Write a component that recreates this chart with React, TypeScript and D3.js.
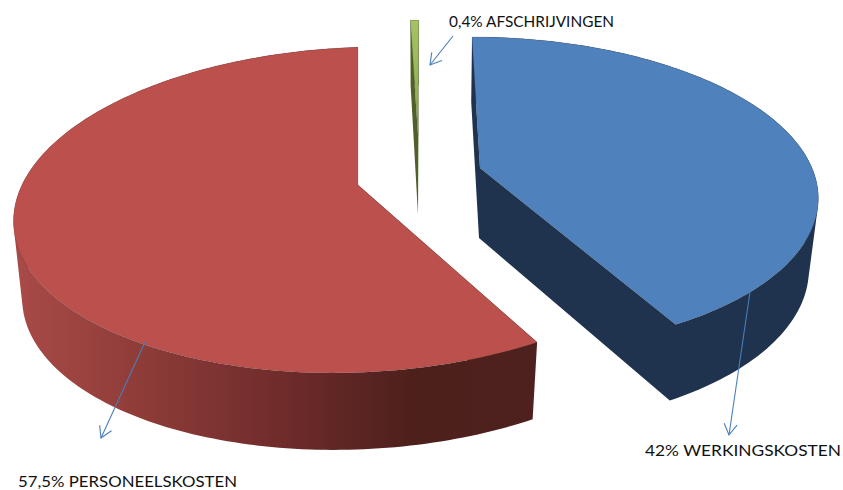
import { useEffect, useRef } from "react"
import * as d3 from "d3"

const categories = ["WERKINGSKOSTEN", "PERSONEELSKOSTEN", "AFSCHRIJVINGEN"]
const shares = [42, 57.5, 0.4]
const shareLabels = ["42%", "57,5%", "0,4%"]

const WIDTH = 843
const HEIGHT = 490

// every slice is pulled out of the pie, so each one has its own perspective frame
const frames = [
  { cx: 480, cy: 168, rx: 332, ry: 152.6, persp: 0.165, skew: 9.3, tilt: 0, scale: 0.975, shift: -1, depth: 70, depthSlope: 0.038 },
  { cx: 358, cy: 185, rx: 339, ry: 159, persp: 0.153, skew: -8.5, tilt: -7, scale: 0.975, shift: 0, depth: 77, depthSlope: 0 },
  { cx: 418, cy: 135, rx: 380, ry: 132, persp: 0.15, skew: -0.8, tilt: 0, scale: 0.97, shift: 0, depth: 80, depthSlope: 0.13 },
]

const topColors = ["#4f81bd", "#bc504d", "url(#greenTop)"]
const sideColors = ["#1f334f", "url(#redSide)", "#4f6128"]

const redSideStops = ["#a84a47", "#8c3b37", "#6f2c2b", "#4e201c", "#4f211e"]
const greenTopStops = ["#a5c364", "#8aa650"]

// label text anchor (left x, baseline y, width) and leader line [from, to]
const labelPos = [
  { x: 645, y: 456, width: 196, from: [750, 292], to: [729, 435] },
  { x: 18, y: 487, width: 219, from: [145, 342], to: [101, 438] },
  { x: 449, y: 27, width: 165, from: [453, 36], to: [430, 65] },
]

type Pt = [number, number]

const App = () => {
  const svgRef = useRef<SVGSVGElement>(null)

  useEffect(() => {
    const svg = d3.select(svgRef.current)
    svg.selectAll("*").remove()

    const defs = svg.append("defs")

    const redGrad = defs
      .append("linearGradient")
      .attr("id", "redSide")
      .attr("gradientUnits", "userSpaceOnUse")
      .attr("x1", 20)
      .attr("x2", 540)
      .attr("y1", 0)
      .attr("y2", 0)
    redSideStops.forEach((c, i) => {
      redGrad.append("stop").attr("offset", i / (redSideStops.length - 1)).attr("stop-color", c)
    })

    const greenGrad = defs
      .append("linearGradient")
      .attr("id", "greenTop")
      .attr("gradientUnits", "userSpaceOnUse")
      .attr("x1", 0)
      .attr("x2", 0)
      .attr("y1", 20)
      .attr("y2", 135)
    greenTopStops.forEach((c, i) => {
      greenGrad.append("stop").attr("offset", i).attr("stop-color", c)
    })

    const marker = defs
      .append("marker")
      .attr("id", "openArrow")
      .attr("markerUnits", "userSpaceOnUse")
      .attr("viewBox", "-14 -8 16 16")
      .attr("markerWidth", 16)
      .attr("markerHeight", 16)
      .attr("refX", 0)
      .attr("refY", 0)
      .attr("orient", "auto")
    marker
      .append("path")
      .attr("d", "M-11,-6.5L0,0L-11,6.5")
      .attr("fill", "none")
      .attr("stroke", "#4a7ebb")
      .attr("stroke-width", 1.1)

    const arcs = d3
      .pie<number>()
      .sort(null)
      .value((d) => d)(shares)

    const line = d3.line()

    // same winding for every quad, so the nonzero fill gives their union
    const quad = (a: Pt, b: Pt, c: Pt, d: Pt) => {
      const pts = [a, b, c, d]
      return line(d3.polygonArea(pts) < 0 ? pts.reverse() : pts) + "Z"
    }

    arcs.forEach((slice, i) => {
      const f = frames[i]

      // pie plane -> screen, 1/w makes the near side of the disc bigger
      const planeToScreen = (u: number, v: number): Pt => {
        const w = 1 - f.persp * v
        return [f.cx + (f.rx * u + f.skew * v) / w, f.cy + (f.ry * v + f.tilt * u) / w]
      }
      const onRim = (a: number) => planeToScreen(Math.sin(a), -Math.cos(a))
      const lower = ([x, y]: Pt): Pt => [
        f.cx + (x - f.cx) * f.scale + f.shift,
        y + f.depth + f.depthSlope * (y - f.cy),
      ]

      const n = Math.max(2, Math.ceil((slice.endAngle - slice.startAngle) / 0.02))
      const rim = d3.range(n + 1).map((k) => onRim(slice.startAngle + ((slice.endAngle - slice.startAngle) * k) / n))
      const apex = planeToScreen(0, 0)
      const first = rim[0]
      const last = rim[rim.length - 1]

      const g = svg.append("g").attr("class", "slice")

      // outer wall and the two cut walls, one path so no seams show
      const walls = d3.pairs(rim).map(([p, q]) => quad(p, q, lower(q), lower(p)))
      walls.push(quad(first, apex, lower(apex), lower(first)))
      walls.push(quad(last, apex, lower(apex), lower(last)))

      g.append("path").attr("d", walls.join("")).attr("fill", sideColors[i])

      // top face
      g.append("path")
        .attr("d", line([apex, ...rim]) + "Z")
        .attr("fill", topColors[i])
        .attr("stroke", "#3a3a3a")
        .attr("stroke-opacity", 0.3)
        .attr("stroke-width", 0.6)

      // leader + label
      const pos = labelPos[i]
      svg
        .append("line")
        .attr("x1", pos.from[0])
        .attr("y1", pos.from[1])
        .attr("x2", pos.to[0])
        .attr("y2", pos.to[1])
        .attr("stroke", "#4a7ebb")
        .attr("stroke-width", 1.1)
        .attr("marker-end", "url(#openArrow)")

      svg
        .append("text")
        .attr("x", pos.x)
        .attr("y", pos.y)
        .attr("textLength", pos.width)
        .attr("lengthAdjust", "spacingAndGlyphs")
        .style("font-family", "Lato")
        .style("font-size", "16px")
        .style("fill", "#111")
        .text(`${shareLabels[i]} ${categories[i]}`)
    })
  }, [])

  return (
    <svg
      ref={svgRef}
      width={WIDTH}
      height={HEIGHT}
      style={{ position: "absolute", left: 0, top: 0, background: "#fff" }}
    ></svg>
  )
}

export default App
